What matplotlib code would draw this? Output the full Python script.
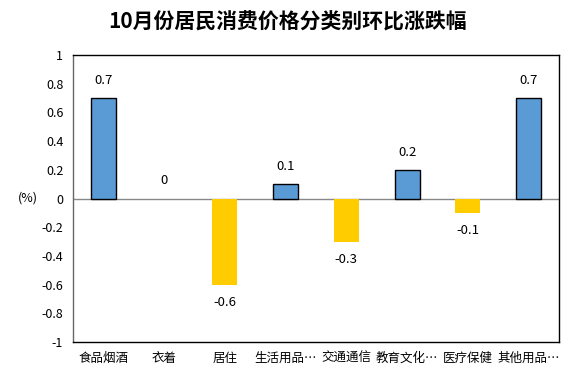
import matplotlib
matplotlib.use("Agg")
import matplotlib.pyplot as plt

plt.rcParams['font.family'] = ['Noto Sans CJK SC', 'DejaVu Sans']

# Data
categories = ["食品烟酒", "衣着", "居住", "生活用品…", "交通通信", "教育文化…", "医疗保健", "其他用品…"]
values = [0.7, 0, -0.6, 0.1, -0.3, 0.2, -0.1, 0.7]
label_text = ["0.7", "0", "-0.6", "0.1", "-0.3", "0.2", "-0.1", "0.7"]
yticks = [1, 0.8, 0.6, 0.4, 0.2, 0, -0.2, -0.4, -0.6, -0.8, -1]
ytick_labels = ["1", "0.8", "0.6", "0.4", "0.2", "0", "-0.2", "-0.4", "-0.6", "-0.8", "-1"]

blue = "#5B9BD5"
yellow = "#FFCC00"

fig = plt.figure(figsize=(5.74, 3.74), dpi=100)
ax = fig.add_axes([73 / 574, 1 - 342 / 374, 486 / 574, 287 / 374])

x = list(range(len(categories)))
colors = [blue if v >= 0 else yellow for v in values]
edges = ["black" if v > 0 else "none" for v in values]
ax.bar(x, values, width=0.41, color=colors, edgecolor=edges, linewidth=1.0, zorder=3)

# value labels
for i, v in enumerate(values):
    if v >= 0:
        ax.annotate(label_text[i], (i, v), xytext=(0, 8), textcoords="offset points",
                    ha="center", va="bottom", fontsize=9.5)
    else:
        ax.annotate(label_text[i], (i, v), xytext=(0, -8), textcoords="offset points",
                    ha="center", va="top", fontsize=9.5)

ax.axhline(0, color="#888888", linewidth=1.0, zorder=2)

ax.set_xlim(-0.5, len(categories) - 0.5)
ax.set_ylim(-1, 1)
ax.set_yticks(yticks)
ax.set_yticklabels(ytick_labels, fontsize=9)
ax.set_xticks(x)
ax.set_xticklabels(categories, fontsize=9)
ax.tick_params(axis="both", length=0, pad=7)

for side in ["top", "right", "bottom"]:
    ax.spines[side].set_color("black")
    ax.spines[side].set_linewidth(1.0)
ax.spines["left"].set_color("#666666")
ax.spines["left"].set_linewidth(1.0)

fig.text(28 / 574, 1 - 198 / 374, "(%)", fontsize=9, ha="center", va="center")
fig.text(288 / 574, 1 - 22 / 374, "10月份居民消费价格分类别环比涨跌幅", fontsize=15,
         fontweight="bold", ha="center", va="center")

fig.savefig("out.png", dpi=100)
